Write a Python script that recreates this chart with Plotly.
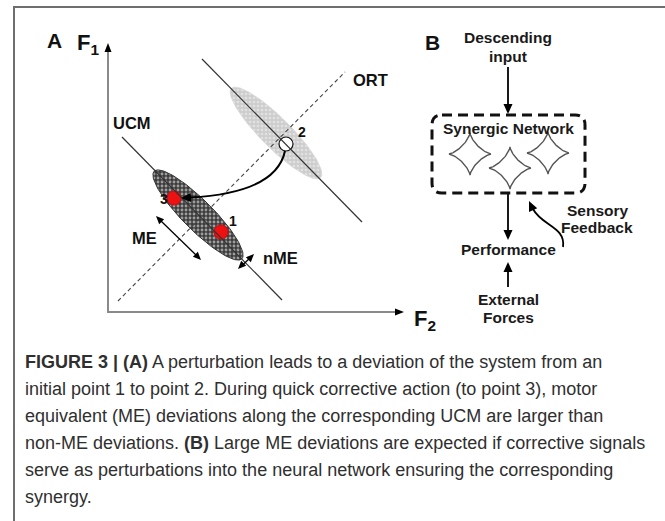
import numpy as np
import plotly.graph_objects as go

# ---------------- data (diagram values, pixel space of the figure) ----------------
point_labels = ["1", "2", "3"]
point_x = [221, 286, 174]
point_y = [232, 144, 198]
point_fill = ["#ee1111", "#ffffff", "#ee1111"]
point_line = ["#cc1111", "#111111", "#cc1111"]
label_x = [233, 302, 164]
label_y = [221, 132, 199]

ellipse_cx = [198, 276]
ellipse_cy = [215, 133]
ellipse_a = [62, 63]
ellipse_b = [15, 15]

a_texts = ["UCM", "ORT", "ME", "nME"]
a_text_x = [132, 370, 144, 280]
a_text_y = [123, 80, 238, 258]

b_texts = ["Descending", "input", "Synergic Network", "Performance",
           "External", "Forces", "Sensory", "Feedback"]
b_text_x = [508, 508, 508, 508, 508, 508, 598, 597]
b_text_y = [37, 56, 128, 249, 299, 317, 210, 227]

star_cx = [470, 510, 548]
star_cy = [154, 168, 153]
star_r = [21, 21, 21]

caption_lines = [
    "<b>FIGURE 3 | (A)</b> A perturbation leads to a deviation of the system from an",
    "initial point 1 to point 2. During quick corrective action (to point 3), motor",
    "equivalent (ME) deviations along the corresponding UCM are larger than",
    "non-ME deviations. <b>(B)</b> Large ME deviations are expected if corrective signals",
    "serve as perturbations into the neural network ensuring the corresponding",
    "synergy.",
]
caption_y = [362, 389, 416, 443, 470, 497]

W, H = 665, 521
BOLD = "Liberation Sans"
AX_Y = 312

fig = go.Figure()
shapes = []
annotations = []


def head(tx, ty, dx, dy, L=9, w=4):
    n = np.hypot(dx, dy)
    ux, uy = dx / n, dy / n
    px, py = -uy, ux
    bx, by = tx - ux * L, ty - uy * L
    return (f"M {tx},{ty} L {bx + px * w},{by + py * w} "
            f"L {bx - px * w},{by - py * w} Z")


def add_head(tx, ty, dx, dy, L=9, w=4, color="black"):
    shapes.append(dict(type="path", path=head(tx, ty, dx, dy, L, w),
                       fillcolor=color, line=dict(width=0), layer="above"))


def add_line(x0, y0, x1, y1, color="black", width=1.5, dash="solid"):
    shapes.append(dict(type="line", x0=x0, y0=y0, x1=x1, y1=y1,
                       line=dict(color=color, width=width, dash=dash), layer="above"))


# ---------------- frame ----------------
shapes.append(dict(type="path", path=f"M 14,{H} L 14,7 L {W},7",
                   line=dict(color="#6e6e6e", width=2)))

# ---------------- panel A ----------------
# axes
add_line(108, AX_Y, 108, 50, color="#8a8a8a", width=2)
add_line(107, AX_Y, 397, AX_Y, color="#8a8a8a", width=2)
add_head(108, 43, 0, -1, L=9, w=3.5)
add_head(404, AX_Y, 1, 0, L=9, w=3.5)

# UCM lines and ORT line
add_line(122, 137, 282, 300, color="#333333", width=1.2)
add_line(202, 59, 362, 222, color="#333333", width=1.2)
add_line(118, 301, 345, 72, color="#444444", width=1.1, dash="4px,3px")

# ellipses
t = np.linspace(0, 2 * np.pi, 160)
ux, uy = np.cos(np.pi / 4), np.sin(np.pi / 4)
ell_styles = [
    dict(fg="#ffffff", bg="#3c3c3c", line="#333333", sol=0.4),
    dict(fg="#f6f6f6", bg="#cdcdcd", line="#dadada", sol=0.35),
]
for cx, cy, a, b, st in zip(ellipse_cx, ellipse_cy, ellipse_a, ellipse_b, ell_styles):
    ex = cx + a * np.cos(t) * ux - b * np.sin(t) * uy
    ey = cy + a * np.cos(t) * uy + b * np.sin(t) * ux
    fig.add_trace(go.Scatter(
        x=ex, y=ey, mode="lines", fill="toself",
        line=dict(color=st["line"], width=1),
        fillcolor=st["bg"],
        fillpattern=dict(shape=".", fgcolor=st["fg"], bgcolor=st["bg"],
                         size=4, solidity=st["sol"]),
        hoverinfo="skip", showlegend=False))

# curved arrow from 2 to 3
shapes.append(dict(type="path", path="M 285,151 Q 276,193 190,197.5",
                   line=dict(color="black", width=2), layer="above"))
add_head(181, 198, -1, 0.06, L=10, w=4.5)

# ME double arrow (parallel to UCM)
add_line(160, 220, 197, 256, color="black", width=1.3)
add_head(156, 216, -1, -1, L=8, w=3.5)
add_head(201, 260, 1, 1, L=8, w=3.5)
# nME double arrow (perpendicular to UCM)
add_line(242, 265.5, 250, 258, color="black", width=1.3)
add_head(238, 269, -1, 1, L=8, w=3.5)
add_head(254, 254, 1, -1, L=8, w=3.5)

# points
fig.add_trace(go.Scatter(
    x=point_x, y=point_y, mode="markers",
    marker=dict(symbol="circle", size=14, color=point_fill,
                line=dict(color=point_line, width=1.2)),
    hoverinfo="skip", showlegend=False))

for lab, lx, ly in zip(point_labels, label_x, label_y):
    annotations.append(dict(x=lx, y=ly, text=f"<b>{lab}</b>", showarrow=False,
                            font=dict(family=BOLD, size=14, color="#111")))
for txt, tx, ty in zip(a_texts, a_text_x, a_text_y):
    annotations.append(dict(x=tx, y=ty, text=f"<b>{txt}</b>", showarrow=False,
                            font=dict(family=BOLD, size=16.5, color="#111")))

annotations.append(dict(x=54, y=40, text="<b>A</b>", showarrow=False,
                        font=dict(family=BOLD, size=21, color="#111")))
annotations.append(dict(x=88, y=44, text="<b>F<sub>1</sub></b>", showarrow=False,
                        font=dict(family=BOLD, size=22, color="#111")))
annotations.append(dict(x=425, y=320, text="<b>F<sub>2</sub></b>", showarrow=False,
                        font=dict(family=BOLD, size=22, color="#111")))

# ---------------- panel B ----------------
annotations.append(dict(x=432, y=42, text="<b>B</b>", showarrow=False,
                        font=dict(family=BOLD, size=21, color="#111")))
for txt, tx, ty in zip(b_texts, b_text_x, b_text_y):
    annotations.append(dict(x=tx, y=ty, text=f"<b>{txt}</b>", showarrow=False,
                            font=dict(family=BOLD, size=15.5, color="#1a1a1a")))

# arrows
add_line(508, 67, 508, 106, width=1.8)
add_head(508, 114, 0, 1, L=10, w=4.5)
add_line(508, 194, 508, 232, width=1.8)
add_head(508, 240, 0, 1, L=10, w=4.5)
add_line(508, 287, 508, 270, width=1.8)
add_head(508, 262, 0, -1, L=10, w=4.5)

# dashed rounded box
x0, x1, y0, y1, r = 432, 585, 115, 193, 10
box = (f"M {x0 + r},{y0} L {x1 - r},{y0} Q {x1},{y0} {x1},{y0 + r} "
       f"L {x1},{y1 - r} Q {x1},{y1} {x1 - r},{y1} L {x0 + r},{y1} "
       f"Q {x0},{y1} {x0},{y1 - r} L {x0},{y0 + r} Q {x0},{y0} {x0 + r},{y0}")
shapes.append(dict(type="path", path=box,
                   line=dict(color="#111", width=3, dash="10px,6px")))

# stars (concave 4-point)
ts = np.linspace(0, 2 * np.pi, 200)
for cx, cy, rr in zip(star_cx, star_cy, star_r):
    sx = cx + rr * np.sign(np.cos(ts)) * np.abs(np.cos(ts)) ** 2.8
    sy = cy + rr * np.sign(np.sin(ts)) * np.abs(np.sin(ts)) ** 2.8
    fig.add_trace(go.Scatter(x=sx, y=sy, mode="lines",
                             line=dict(color="#555555", width=1.4),
                             hoverinfo="skip", showlegend=False))

# sensory feedback curved arrow
shapes.append(dict(type="path", path="M 563,247 C 566,227 542,226 533,209",
                   line=dict(color="black", width=1.8), layer="above"))
add_head(529, 201, -0.45, -1, L=10, w=4.5)

# ---------------- caption ----------------
for line, cy in zip(caption_lines, caption_y):
    annotations.append(dict(x=23, y=cy, xanchor="left", text=line, showarrow=False,
                            font=dict(family="Liberation Sans", size=18, color="#2f2f2f")))

fig.update_layout(
    width=W, height=H,
    margin=dict(l=0, r=0, t=0, b=0),
    paper_bgcolor="white", plot_bgcolor="white",
    xaxis=dict(range=[0, W], visible=False, fixedrange=True),
    yaxis=dict(range=[H, 0], visible=False, fixedrange=True),
    shapes=shapes, annotations=annotations, showlegend=False,
)

fig.write_html("out.html", post_script="document.body.style.margin='0';",
               config={"displayModeBar": False})
